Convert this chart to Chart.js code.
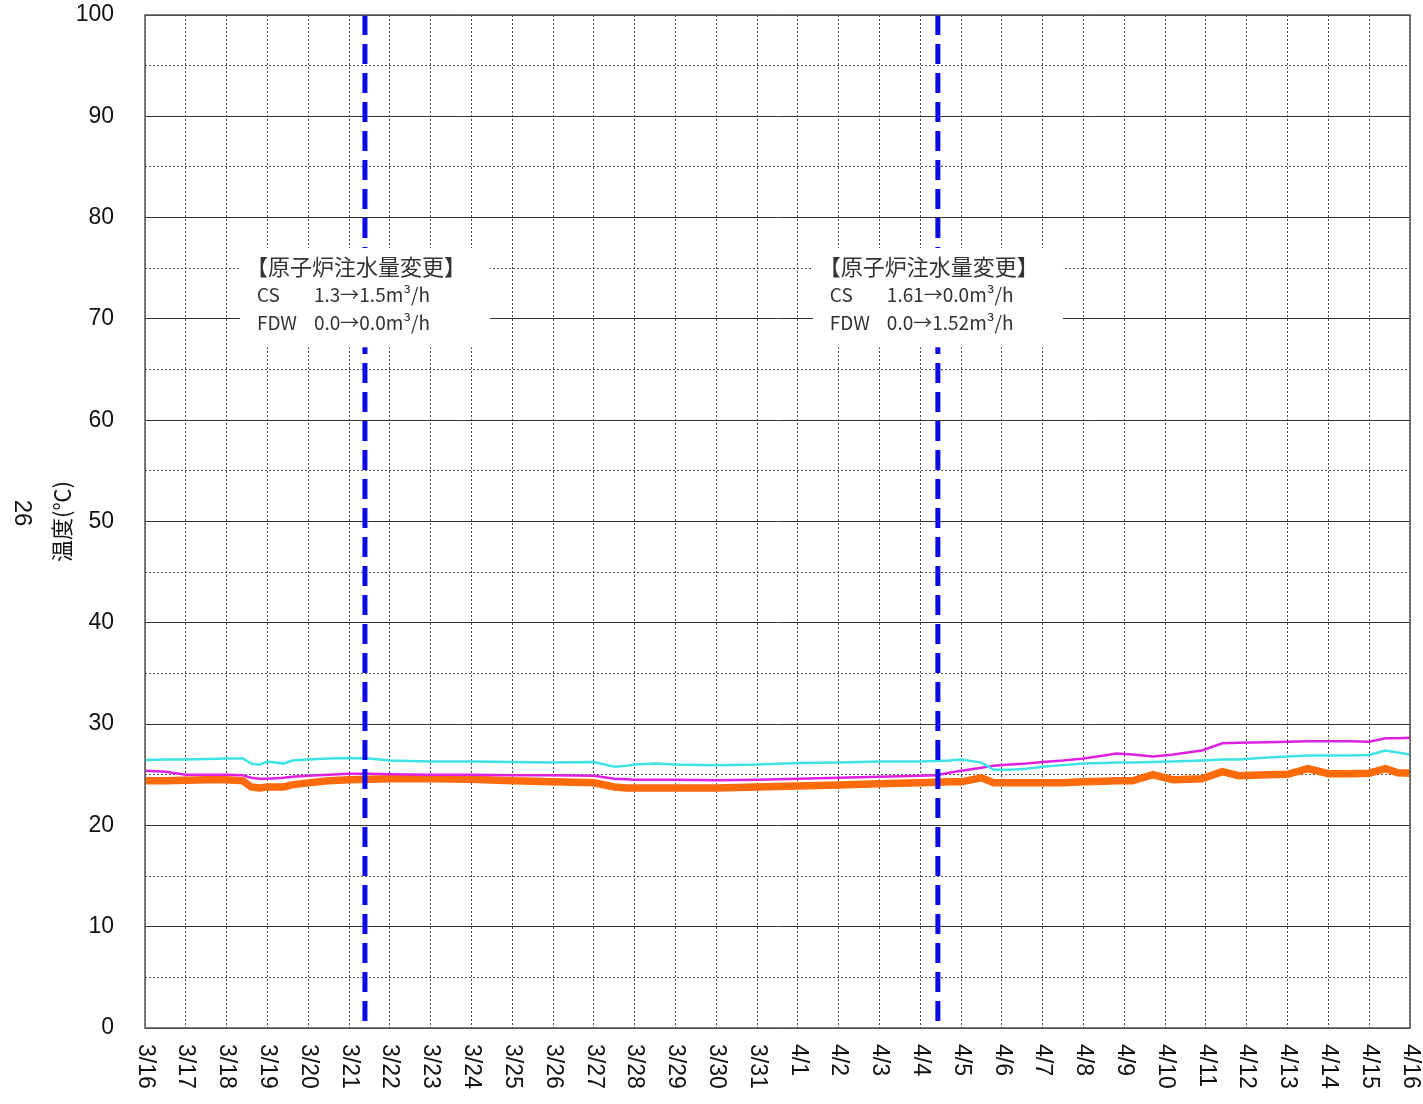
<!DOCTYPE html>
<html>
<head>
<meta charset="utf-8">
<script src="https://cdn.jsdelivr.net/npm/chart.js@4.4.1/dist/chart.umd.min.js"></script>
<style>
  body { margin: 0; background: #fff; }
  #wrap { width: 1423px; height: 1104px; }
</style>
</head>
<body>
<div id="wrap"><canvas id="tempChart"></canvas></div>
<script>
// day labels along the bottom (one per day, 3/16 .. 4/16)
const dayLabels = ["3/16", "3/17", "3/18", "3/19", "3/20", "3/21", "3/22", "3/23", "3/24", "3/25",
    "3/26", "3/27", "3/28", "3/29", "3/30", "3/31", "4/1", "4/2", "4/3", "4/4", "4/5", "4/6",
    "4/7", "4/8", "4/9", "4/10", "4/11", "4/12", "4/13", "4/14", "4/15", "4/16"];

// sample times, in days since 3/16 0:00
const days = [0, 0.5, 1, 1.5, 2, 2.4, 2.6, 2.8, 3, 3.4, 3.6, 4, 4.5, 5, 5.5, 6, 7, 8, 9, 10,
    11, 11.5, 11.8, 12, 12.5, 13, 14, 15, 16, 17, 18, 19, 19.4, 19.7, 20, 20.5, 20.8, 21.2, 21.6, 22,
    22.5, 23, 23.5, 23.8, 24.2, 24.7, 25.2, 25.9, 26.4, 26.8, 27.5, 28, 28.5, 29, 29.5, 30, 30.4, 30.7, 31];

const cyanTemps = [26.45, 26.5, 26.5, 26.55, 26.6, 26.6, 26.1, 26.0, 26.3, 26.1, 26.4, 26.5, 26.6, 26.65, 26.6,
    26.4, 26.3, 26.3, 26.25, 26.2, 26.25, 25.8, 25.9, 26.0, 26.1, 26.0, 25.95, 26.0, 26.15, 26.2,
    26.3, 26.3, 26.35, 26.4, 26.5, 26.2, 25.5, 25.5, 25.6, 25.8, 25.95, 26.1, 26.15, 26.2, 26.2,
    26.25, 26.3, 26.4, 26.5, 26.5, 26.7, 26.8, 26.9, 26.9, 26.9, 26.95, 27.4, 27.2, 27.0];

const magentaTemps = [25.4, 25.3, 25.0, 25.0, 25.0, 24.95, 24.7, 24.6, 24.6, 24.7, 24.8, 24.9, 25.0, 25.1, 25.1,
    25.05, 25.0, 25.0, 24.95, 24.95, 24.9, 24.6, 24.55, 24.5, 24.5, 24.5, 24.45, 24.5, 24.6, 24.7,
    24.8, 24.9, 24.95, 25.2, 25.4, 25.7, 25.9, 26.0, 26.1, 26.25, 26.4, 26.6, 26.9, 27.1, 27.0,
    26.8, 27.0, 27.4, 28.1, 28.15, 28.2, 28.25, 28.3, 28.3, 28.3, 28.25, 28.6, 28.6, 28.65];

const orangeTemps = [24.4, 24.4, 24.45, 24.5, 24.5, 24.4, 23.8, 23.7, 23.8, 23.8, 24.0, 24.2, 24.4, 24.5, 24.55,
    24.6, 24.6, 24.55, 24.4, 24.3, 24.2, 23.8, 23.7, 23.7, 23.7, 23.7, 23.7, 23.8, 23.9, 24.0,
    24.1, 24.2, 24.25, 24.3, 24.3, 24.7, 24.2, 24.2, 24.2, 24.2, 24.2, 24.3, 24.35, 24.4, 24.4,
    25.0, 24.5, 24.6, 25.3, 24.9, 25.0, 25.05, 25.6, 25.1, 25.1, 25.15, 25.6, 25.2, 25.15];

// injection flow changes (days since 3/16)
const eventDays = [5.39, 19.43];
const eventTitle = "【原子炉注水量変更】";
const eventRows = [
    [["CS", "1.3→1.5m³/h"], ["FDW", "0.0→0.0m³/h"]],
    [["CS", "1.61→0.0m³/h"], ["FDW", "0.0→1.52m³/h"]]
];

const sideNote = "26";

function toPoints(xs, ys) {
    return xs.map((x, i) => ({ x: x, y: ys[i] }));
}

const eventLines = eventDays.map(d => ({
    data: [{ x: d, y: 100 }, { x: d, y: 0 }],
    borderColor: "#0a0ae8",
    borderWidth: 5,
    borderDash: [20, 9],
    pointRadius: 0
}));

const notesPlugin = {
    id: "notes",
    afterDatasetsDraw(chart) {
        const ctx = chart.ctx;
        const xs = chart.scales.x;
        const ys = chart.scales.y;
        eventDays.forEach((d, i) => {
            const cx = xs.getPixelForValue(d);
            const top = ys.getPixelForValue(77);
            const bottom = ys.getPixelForValue(67.2);
            const left = cx - 125;
            ctx.save();
            ctx.fillStyle = "#fff";
            ctx.fillRect(left, top, 250, bottom - top);
            ctx.fillStyle = "#333";
            ctx.textBaseline = "middle";
            ctx.font = "22px 'Noto Sans CJK JP'";
            ctx.fillText(eventTitle, left + 6, top + 19);
            ctx.font = "19px 'Noto Sans CJK JP'";
            eventRows[i].forEach((row, j) => {
                const y = top + 47 + j * 28;
                ctx.fillText(row[0], left + 17, y);
                ctx.fillText(row[1], left + 74, y);
            });
            ctx.restore();
        });
    },
    afterDraw(chart) {
        const ctx = chart.ctx;
        const area = chart.chartArea;
        const xs = chart.scales.x;
        ctx.save();
        // frame
        ctx.strokeStyle = "#555";
        ctx.lineWidth = 1.5;
        ctx.strokeRect(area.left, area.top, area.right - area.left, area.bottom - area.top);
        // rotated day labels
        ctx.fillStyle = "#111";
        ctx.font = "23px 'Liberation Sans'";
        ctx.textBaseline = "middle";
        ctx.textAlign = "left";
        dayLabels.forEach((lab, i) => {
            const x = xs.getPixelForValue(i);
            ctx.save();
            ctx.translate(x, area.bottom + 16);
            ctx.rotate(Math.PI / 2);
            ctx.fillText(lab, 0, 0);
            ctx.restore();
        });
        // side page note
        ctx.save();
        ctx.translate(22, 513);
        ctx.rotate(Math.PI / 2);
        ctx.textAlign = "center";
        ctx.font = "24px 'Liberation Sans'";
        ctx.fillText(sideNote, 0, 0);
        ctx.restore();
        ctx.restore();
    }
};

new Chart(document.getElementById("tempChart"), {
    type: "line",
    data: {
        datasets: [
            ...eventLines,
            {
                data: toPoints(days, cyanTemps),
                borderColor: "#3ee3e3",
                borderWidth: 2.5,
                pointRadius: 0
            },
            {
                data: toPoints(days, magentaTemps),
                borderColor: "#e020e0",
                borderWidth: 2.5,
                pointRadius: 0
            },
            {
                data: toPoints(days, orangeTemps),
                borderColor: "#ff6a0a",
                borderWidth: 7.5,
                pointRadius: 0
            }
        ]
    },
    options: {
        responsive: true,
        maintainAspectRatio: false,
        animation: false,
        layout: {
            padding: { top: 15, right: 13, bottom: 76, left: 0 }
        },
        plugins: {
            legend: { display: false },
            tooltip: { enabled: false }
        },
        scales: {
            x: {
                type: "linear",
                min: 0,
                max: 31,
                ticks: { stepSize: 1, display: false },
                grid: { color: "#444", lineWidth: 1, drawTicks: false },
                border: { display: false, dash: [2, 2] }
            },
            y: {
                min: 0,
                max: 100,
                afterFit(scale) {
                    scale.width = 145;
                    scale.paddingTop = 0;
                    scale.paddingBottom = 0;
                },
                ticks: {
                    stepSize: 5,
                    padding: 31,
                    color: "#111",
                    font: { family: "'Liberation Sans'", size: 23 },
                    callback: v => (v % 10 === 0 ? v : "")
                },
                grid: {
                    drawTicks: false,
                    lineWidth: 1,
                    color: c => (c.tick && c.tick.value % 10 === 0 ? "#333" : "#555")
                },
                border: {
                    display: false,
                    dash: c => (c.tick && c.tick.value % 10 !== 0 ? [2, 2] : [])
                },
                title: {
                    display: true,
                    text: "温度(℃)",
                    color: "#111",
                    font: { family: "'Noto Sans CJK JP'", size: 22 },
                    padding: { top: 48, bottom: 0 }
                }
            }
        }
    },
    plugins: [notesPlugin]
});
</script>
</body>
</html>
